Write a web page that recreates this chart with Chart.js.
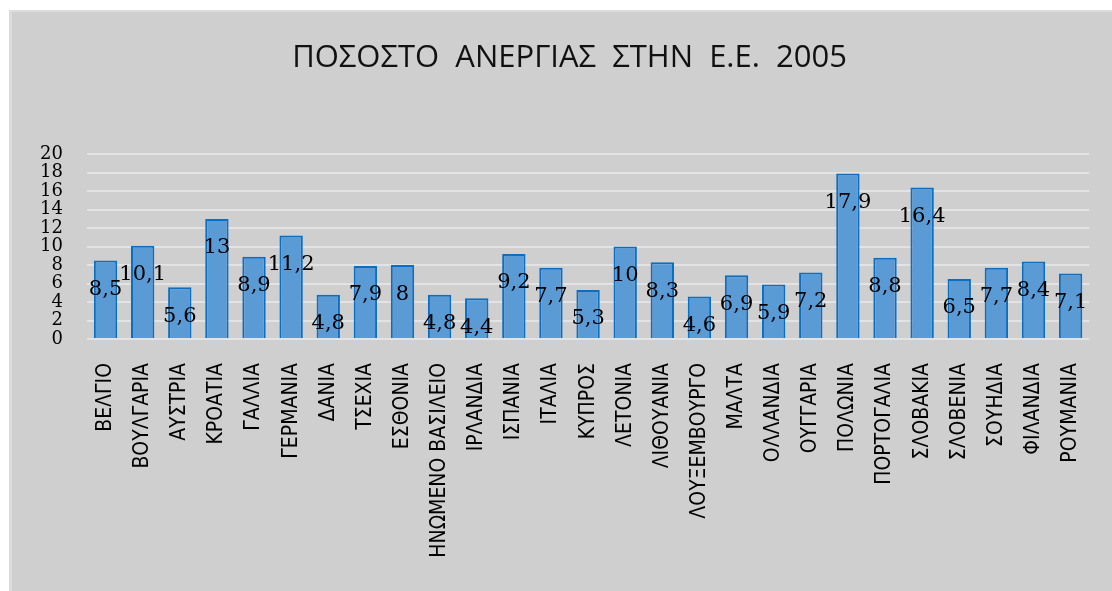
<!DOCTYPE html>
<html>
<head>
<meta charset="utf-8">
<script src="https://cdn.jsdelivr.net/npm/chart.js@4"></script>
<style>
  html, body { margin: 0; padding: 0; background: #fff; }
  #wrap { width: 1112px; height: 591px; }
</style>
</head>
<body>
<div id="wrap"><canvas id="chart" width="1112" height="591"></canvas></div>
<script>
const countries = [
  "ΒΕΛΓΙΟ", "ΒΟΥΛΓΑΡΙΑ", "ΑΥΣΤΡΙΑ", "ΚΡΟΑΤΙΑ", "ΓΑΛΛΙΑ", "ΓΕΡΜΑΝΙΑ", "ΔΑΝΙΑ",
  "ΤΣΕΧΙΑ", "ΕΣΘΟΝΙΑ", "ΗΝΩΜΕΝΟ ΒΑΣΙΛΕΙΟ", "ΙΡΛΑΝΔΙΑ", "ΙΣΠΑΝΙΑ", "ΙΤΑΛΙΑ",
  "ΚΥΠΡΟΣ", "ΛΕΤΟΝΙΑ", "ΛΙΘΟΥΑΝΙΑ", "ΛΟΥΞΕΜΒΟΥΡΓΟ", "ΜΑΛΤΑ", "ΟΛΛΑΝΔΙΑ",
  "ΟΥΓΓΑΡΙΑ", "ΠΟΛΩΝΙΑ", "ΠΟΡΤΟΓΑΛΙΑ", "ΣΛΟΒΑΚΙΑ", "ΣΛΟΒΕΝΙΑ", "ΣΟΥΗΔΙΑ",
  "ΦΙΛΑΝΔΙΑ", "ΡΟΥΜΑΝΙΑ"
];
const unemployment = [
  8.5, 10.1, 5.6, 13, 8.9, 11.2, 4.8,
  7.9, 8, 4.8, 4.4, 9.2, 7.7,
  5.3, 10, 8.3, 4.6, 6.9, 5.9,
  7.2, 17.9, 8.8, 16.4, 6.5, 7.7,
  8.4, 7.1
];
const yTicks = [0, 2, 4, 6, 8, 10, 12, 14, 16, 18, 20];

// grey panel behind the chart
const panelBg = {
  id: "panelBg",
  beforeDraw(chart) {
    const c = chart.ctx;
    c.save();
    c.fillStyle = "#ffffff";
    c.fillRect(0, 0, chart.width, chart.height);
    c.fillStyle = "#dcdcdc";
    c.fillRect(9, 10, chart.width - 9, chart.height - 10);
    c.fillStyle = "#d0cfd0";
    c.fillRect(12, 12, chart.width - 12, chart.height - 12);
    c.restore();
  }
};

// value labels a bit below the top of each bar
const barLabels = {
  id: "barLabels",
  afterDatasetsDraw(chart) {
    const c = chart.ctx;
    const yScale = chart.scales.y;
    const meta = chart.getDatasetMeta(0);
    c.save();
    c.font = "21px 'DejaVu Serif', serif";
    c.fillStyle = "#000";
    c.textAlign = "center";
    c.textBaseline = "middle";
    meta.data.forEach((bar, i) => {
      const v = unemployment[i];
      const y = yScale.getPixelForValue(v) + 29;
      c.fillText(String(v).replace(".", ","), bar.x, y);
    });
    c.restore();
  }
};

new Chart(document.getElementById("chart").getContext("2d"), {
  type: "bar",
  data: {
    labels: countries,
    datasets: [{
      data: unemployment,
      backgroundColor: "#5b9bd5",
      borderColor: "#0a6fc2",
      borderWidth: 2,
      categoryPercentage: 1,
      barPercentage: 0.63
    }]
  },
  options: {
    responsive: false,
    animation: false,
    layout: { padding: { left: 38, right: 11, top: 0, bottom: 0 } },
    plugins: {
      legend: { display: false },
      tooltip: { enabled: false },
      title: {
        display: true,
        text: "ΠΟΣΟΣΤΟ  ΑΝΕΡΓΙΑΣ  ΣΤΗΝ  Ε.Ε.  2005",
        color: "#111",
        font: { family: "'Open Sans', sans-serif", size: 31, weight: "normal", lineHeight: 1.2 },
        padding: { top: 40, bottom: 77 }
      }
    },
    scales: {
      x: {
        grid: { display: false },
        border: { display: false },
        ticks: {
          color: "#000",
          minRotation: 90,
          maxRotation: 90,
          autoSkip: false,
          padding: 16,
          font: { family: "'DejaVu Sans Condensed', 'Liberation Sans Narrow', sans-serif", size: 21 }
        },
        afterFit(scale) { scale.height = 252; }
      },
      y: {
        min: 0,
        max: 20,
        afterBuildTicks(scale) { scale.ticks = yTicks.map(v => ({ value: v })); },
        grid: { color: "#e3e3e3", lineWidth: 2, drawTicks: false },
        border: { display: false },
        ticks: {
          color: "#000",
          autoSkip: false,
          padding: 24,
          font: { family: "'DejaVu Serif', serif", size: 18, lineHeight: 1 }
        },
        afterFit(scale) { scale.width = 49; }
      }
    }
  },
  plugins: [panelBg, barLabels]
});
</script>
</body>
</html>
